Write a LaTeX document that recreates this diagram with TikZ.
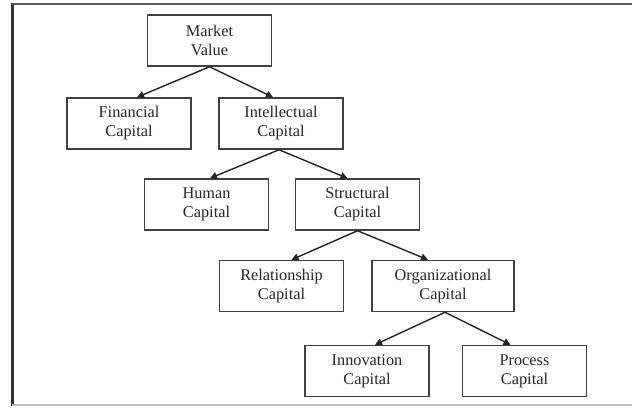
\documentclass[tikz,border=0pt]{standalone}
\usepackage{fontspec}
\setmainfont{Liberation Serif}
\usetikzlibrary{arrows.meta}
\begin{document}
\begin{tikzpicture}[x=1pt,y=-1pt,
  capbox/.style={draw=black!75, line width=1.5pt, rectangle, minimum width=124pt,
    minimum height=51pt, inner sep=0pt, align=center, text=black!85,
    font=\fontsize{16.3}{19}\selectfont},
  link/.style={draw=black!85, line width=1.4pt,
    -{Triangle[length=7pt,width=7pt]}}]
\useasboundingbox (0,0) rectangle (632,408);
\fill[white] (0,0) rectangle (632,408);
% outer frame
\draw[black!80, line width=3pt] (12,406) -- (12,4);
\draw[black!65, line width=2.5pt] (10.5,4) -- (632,4);
\draw[black!25, line width=1.5pt] (12,405) -- (632,405);
% boxes
\node[capbox] (mv)  at (209.5,40.5) {Market\\Value};
\node[capbox] (fin) at (129,123.5)  {Financial\\Capital};
\node[capbox] (ic)  at (281,123.5)  {Intellectual\\Capital};
\node[capbox] (hum) at (206.5,204.5) {Human\\Capital};
\node[capbox] (sc)  at (357.5,204.5) {Structural\\Capital};
\node[capbox] (rel) at (281.5,286)  {Relationship\\Capital};
\node[capbox, minimum width=142pt] (org) at (443,286) {Organizational\\Capital};
\node[capbox] (inn) at (367,371)    {Innovation\\Capital};
\node[capbox] (pro) at (524.5,371)  {Process\\Capital};
% connectors
\draw[link] (mv.south) -- ([xshift=8pt]fin.north);
\draw[link] (mv.south) -- ([xshift=-8pt]ic.north);
\draw[link] ([xshift=-2pt]ic.south) -- ([xshift=3.5pt]hum.north);
\draw[link] ([xshift=-2pt]ic.south) -- ([xshift=-10pt]sc.north);
\draw[link] (sc.south) -- ([xshift=10pt]rel.north);
\draw[link] (sc.south) -- ([xshift=-15pt]org.north);
\draw[link] ([xshift=2pt]org.south) -- ([xshift=8pt]inn.north);
\draw[link] ([xshift=2pt]org.south) -- ([xshift=-14pt]pro.north);
\end{tikzpicture}
\end{document}
